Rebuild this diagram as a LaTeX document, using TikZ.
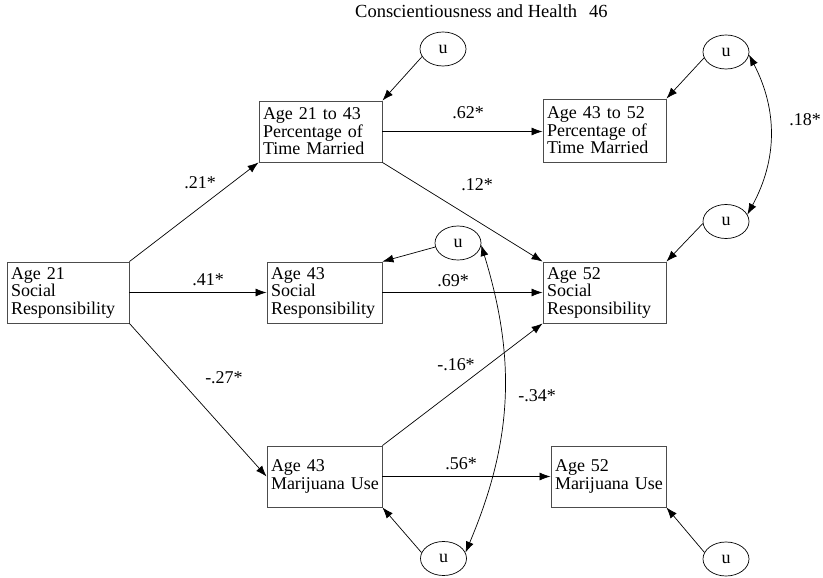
\documentclass[tikz,border=0pt]{standalone}
\usepackage{fontspec}
\setmainfont{Liberation Serif}
\usetikzlibrary{arrows.meta,shapes.geometric}
\begin{document}
\begin{tikzpicture}[x=1pt,y=-1pt,
  font=\fontsize{18}{17.5}\selectfont,
  varbox/.style={draw=black!70, line width=0.9pt, inner xsep=4pt, inner ysep=0pt, align=left, minimum height=61pt},
  errnode/.style={draw, ellipse, line width=0.7pt, minimum width=46pt, minimum height=34pt, inner sep=0pt},
  conn/.style={line width=0.7pt, -{Latex[length=11pt,width=8pt]}},
  dconn/.style={line width=0.7pt, {Latex[length=11pt,width=8pt]}-{Latex[length=11pt,width=8pt]}},
  coef/.style={inner sep=0pt}
]
\useasboundingbox (0,0) rectangle (823,578);

\node[anchor=base west, font=\fontsize{18.5}{20}\selectfont, inner sep=0pt] (title) at (355,18) {Conscientiousness and Health\hspace{12pt}46};

% boxes
\node[varbox, text width=114pt] (b21) at (68,292.5) {Age 21\\Social\\Responsibility};
\node[varbox, text width=115pt] (b2143) at (320.5,131.5) {Age 21 to 43\\Percentage of\\Time Married};
\node[varbox, text width=115pt, minimum height=63pt] (b4352) at (604.5,130.5) {Age 43 to 52\\Percentage of\\Time Married};
\node[varbox, text width=107pt] (b43sr) at (324.5,292.5) {Age 43\\Social\\Responsibility};
\node[varbox, text width=115pt] (b52sr) at (604.5,292.5) {Age 52\\Social\\Responsibility};
\node[varbox, text width=107pt] (b43mj) at (324.5,476.5) {Age 43\\\mbox{Marijuana Use}};
\node[varbox, text width=107pt] (b52mj) at (608.5,476.5) {Age 52\\\mbox{Marijuana Use}};

% error terms
\node[errnode] (u1) at (443,49) {u};
\node[errnode] (u2) at (726,52) {u};
\node[errnode] (u3) at (726,221.5) {u};
\node[errnode] (u4) at (458,243) {u};
\node[errnode] (u5) at (443.5,558.5) {u};
\node[errnode] (u6) at (726,559) {u};

% structural paths
\draw[conn] (b21.north east) -- (b2143.south west);
\draw[conn] (b21.east) -- (b43sr.west);
\draw[conn] (b21.south east) -- (b43mj.west);
\draw[conn] (b2143.east) -- (b2143.east -| b4352.west);
\draw[conn] (b2143.south east) -- (b52sr.north west);
\draw[conn] (b43sr.east) -- (b52sr.west);
\draw[conn] (b43mj.north east) -- (b52sr.south west);
\draw[conn] (b43mj.east) -- (b52mj.west);

% residual paths
\draw[conn] (u1.200) -- (b2143.north east);
\draw[conn] (u2.195) -- (b4352.north east);
\draw[conn] (u3.185) -- (b52sr.north east);
\draw[conn] (u4.190) -- (b43sr.north east);
\draw[conn] (u5.165) -- (b43mj.south east);
\draw[conn] (u6.163) -- (b52mj.south east);

% correlations
\draw[dconn] (u2.-7) to[bend left=28] (u3.18);
\draw[dconn] (u4.-5) to[bend left=20] (u5.15);

% coefficients
\node[coef] (c21) at (200,183) {.21*};
\node[coef] (c41) at (208,280) {.41*};
\node[coef] (c27) at (224,378) {-.27*};
\node[coef] (c62) at (468,113) {.62*};
\node[coef] (c12) at (477,185) {.12*};
\node[coef] (c69) at (453,281) {.69*};
\node[coef] (c16) at (456,365) {-.16*};
\node[coef] (c56) at (461,464) {.56*};
\node[coef] (c18) at (805,120) {.18*};
\node[coef] (c34) at (537,396) {-.34*};
\end{tikzpicture}
\end{document}
